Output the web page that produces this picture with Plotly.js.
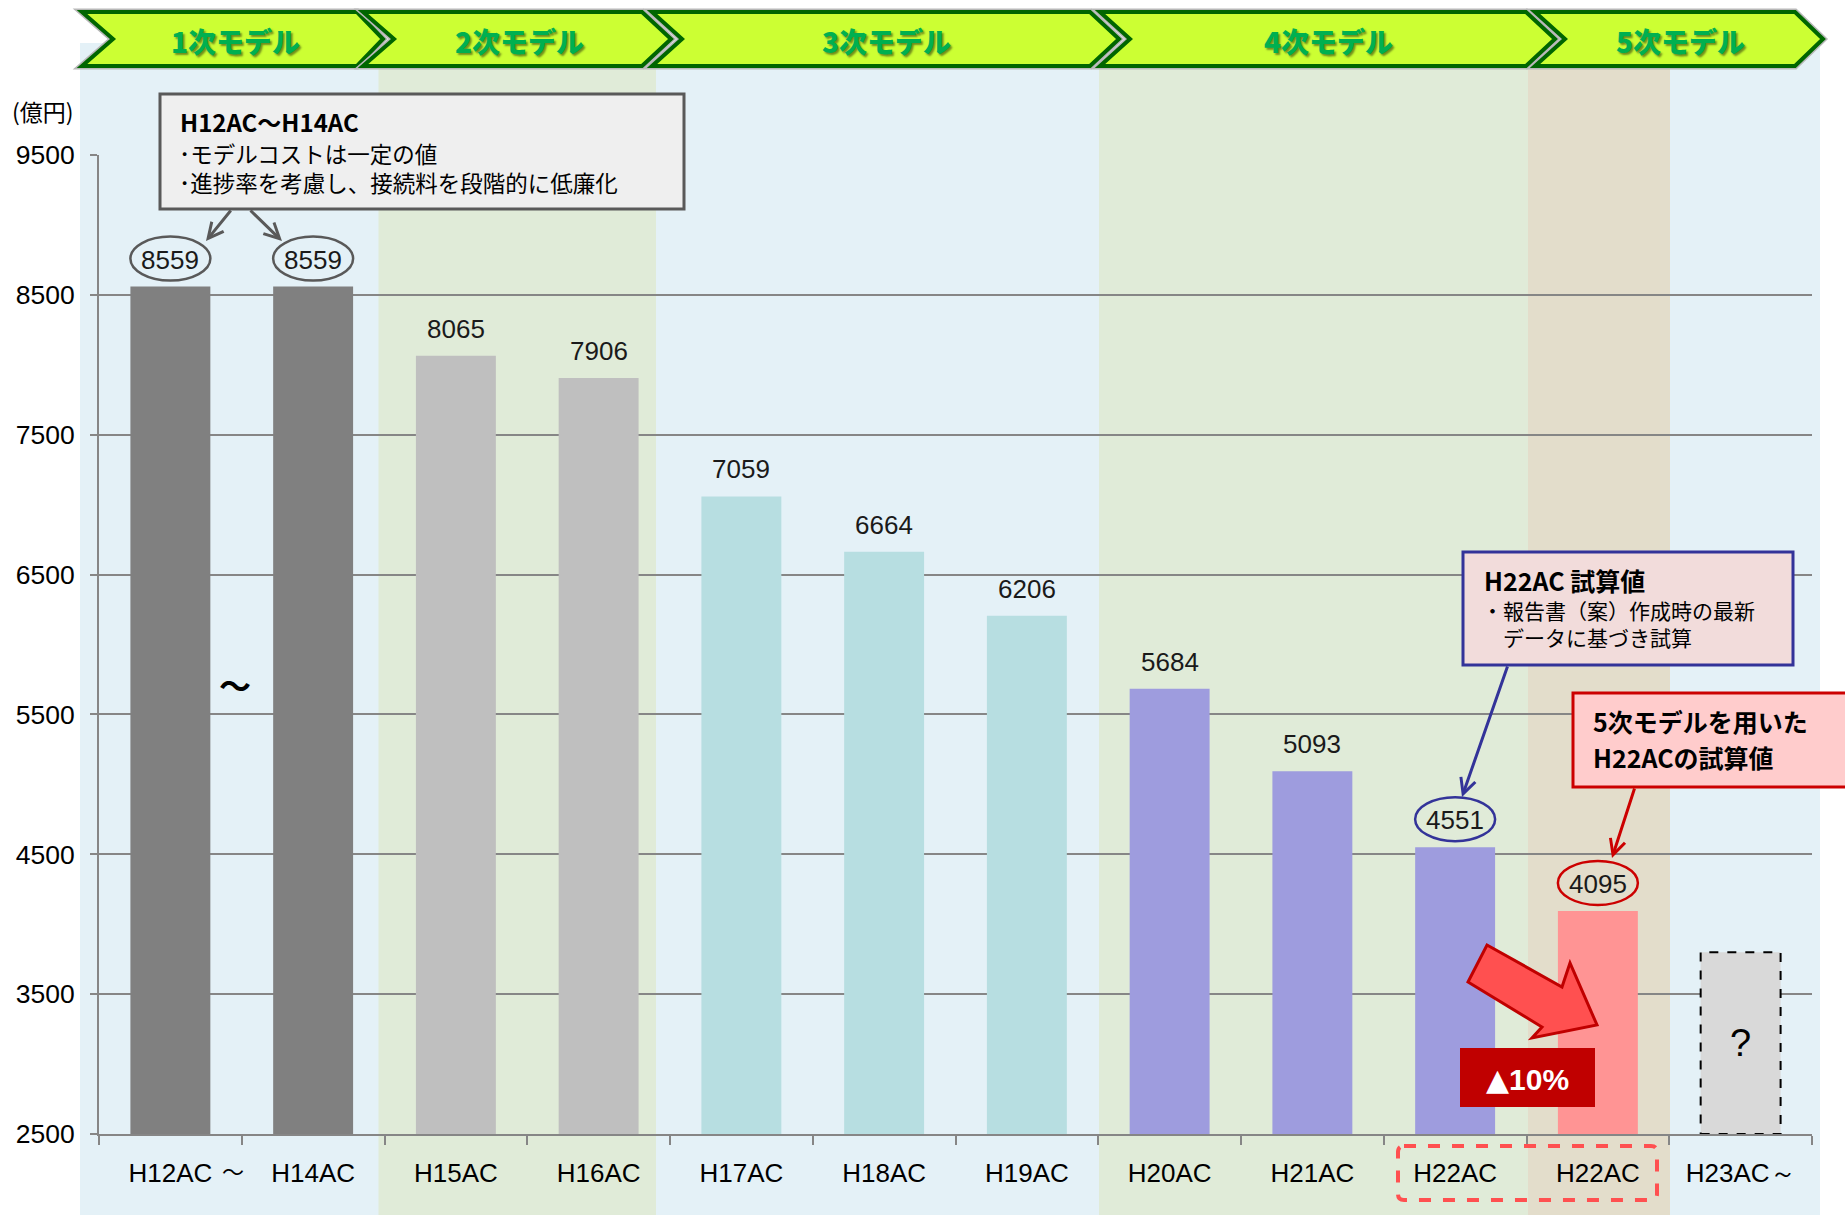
<!DOCTYPE html>
<html><head><meta charset="utf-8">
<script src="https://cdn.plot.ly/plotly-3.0.1.min.js"></script>
<style>html,body{margin:0;padding:0;background:#fff}</style>
</head><body>
<div id="chart" style="width:1845px;height:1215px"></div>
<script>
// ---- data ----
const categories = ["H12AC","H14AC","H15AC","H16AC","H17AC","H18AC","H19AC","H20AC","H21AC","H22AC","H22AC","H23AC～"];
const values = [8559,8559,8065,7906,7059,6664,6206,5684,5093,4551,4095,3800];
const valueLabels = ["8559","8559","8065","7906","7059","6664","6206","5684","5093","4551","4095","?"];
const barColors = ["#808080","#808080","#bfbfbf","#bfbfbf","#b7dee1","#b7dee1","#b7dee1","#9e9cde","#9e9cde","#9e9cde","#ff9494","#d9d9d9"];
const circleColors = ["#595959","#595959",null,null,null,null,null,null,null,"#333399","#cc0000",null];
const yTicks = [2500,3500,4500,5500,6500,7500,8500,9500];
const yRange = [2500,9500];
const modelNames = ["1次モデル","2次モデル","3次モデル","4次モデル","5次モデル"];
const unitLabel = "(億円)";
const note1Title = "H12AC～H14AC";
const note1Lines = ["･モデルコストは一定の値","･進捗率を考慮し、接続料を段階的に低廉化"];
const note2Title = "H22AC 試算値";
const note2Lines = ["・報告書（案）作成時の最新","　データに基づき試算"];
const note3Lines = ["5次モデルを用いた","H22ACの試算値"];
const dropLabel = "10%";

// ---- geometry helpers (pixel -> paper) ----
const L = 99, R = 1812, T = 155, B = 1134;
const px = x => (x - L) / (R - L);
const py = y => (B - y) / (B - T);
const NUM = 'Liberation Sans, Arial, sans-serif';
const JP = 'Noto Sans CJK JP, sans-serif';

const xIdx = categories.map((_, i) => i);

const shapes = [];
const annotations = [];

// background bands
function band(x0, x1, y0, y1, color) {
  shapes.push({type:'rect', xref:'paper', yref:'paper', x0:px(x0), x1:px(x1), y0:py(y1), y1:py(y0),
    fillcolor:color, line:{width:0}, layer:'below'});
}
band(80, 1820, 43, 1215, '#e4f1f7');
band(378.5, 656, 60, 1215, '#e0ebd8');
band(1099, 1528, 60, 1215, '#e0ebd8');
band(1528, 1670, 60, 1215, '#e3ddcb');

// chevrons
const chev = [[82,113,357,383,235],[363,394,642,671,519],[652,682,1090,1119,886],[1100,1130,1526,1555,1328],[1535,1565,1795,1823,1680]];
const cTop = 12, cBot = 66, cMid = 39;
chev.forEach((c, k) => {
  const [l, n, co, tip, tx] = c;
  const path = `M${px(l)},${py(cTop)} L${px(co)},${py(cTop)} L${px(tip)},${py(cMid)} L${px(co)},${py(cBot)} L${px(l)},${py(cBot)} L${px(n)},${py(cMid)} Z`;
  shapes.push({type:'path', xref:'paper', yref:'paper', path, fillcolor:'#ccff33', line:{color:'#b8b8b8', width:7}, layer:'above'});
  shapes.push({type:'path', xref:'paper', yref:'paper', path, fillcolor:'#ccff33', line:{color:'#006600', width:4}, layer:'above'});
  annotations.push({xref:'paper', yref:'paper', x:px(tx), y:py(41), text:modelNames[k], showarrow:false,
    xanchor:'center', yanchor:'middle',
    font:{family:JP, size:28, weight:900, color:'#00b050', shadow:'2px 2px 2px rgba(0,0,0,0.45)'}});
});

// value labels + circles
values.forEach((v, i) => {
  if (i < values.length - 1) {
    annotations.push({xref:'x', yref:'y', x:i, y:v, yshift:27, text:valueLabels[i], showarrow:false,
      xanchor:'center', yanchor:'middle', font:{family:NUM, size:26, color:'#1a1a1a'}});
  } else {
    annotations.push({xref:'x', yref:'y', x:i, y:(yRange[0] + v) / 2, text:valueLabels[i], showarrow:false,
      xanchor:'center', yanchor:'middle', font:{family:NUM, size:38, color:'#000'}});
    shapes.push({type:'rect', xref:'x', yref:'y', x0:i-0.28, x1:i+0.28, y0:yRange[0], y1:v,
      line:{color:'#000', width:2, dash:'dash'}, fillcolor:'rgba(0,0,0,0)', layer:'above'});
  }
  if (circleColors[i]) {
    shapes.push({type:'circle', xref:'x', yref:'y', xsizemode:'pixel', ysizemode:'pixel', xanchor:i, yanchor:v,
      x0:-40, x1:40, y0:6, y1:50, line:{color:circleColors[i], width:2.5}, fillcolor:'rgba(0,0,0,0)', layer:'above'});
  }
});

// callout 1
shapes.push({type:'rect', xref:'paper', yref:'paper', x0:px(160), x1:px(684), y0:py(209), y1:py(94),
  fillcolor:'#efefef', line:{color:'#595959', width:3}, layer:'above'});
annotations.push({xref:'paper', yref:'paper', x:px(178), y:py(122), text:'<b>'+note1Title+'</b>', showarrow:false,
  xanchor:'left', yanchor:'middle', font:{family:JP, size:24, color:'#000'}});
annotations.push({xref:'paper', yref:'paper', x:px(177), y:py(168), text:note1Lines.join('<br>'), showarrow:false,
  xanchor:'left', yanchor:'middle', align:'left', font:{family:JP, size:22.5, color:'#000'}});

// callout 2
shapes.push({type:'rect', xref:'paper', yref:'paper', x0:px(1463), x1:px(1793), y0:py(665), y1:py(552),
  fillcolor:'#f2dcdb', line:{color:'#333399', width:3}, layer:'above'});
annotations.push({xref:'paper', yref:'paper', x:px(1482), y:py(580), text:'<b>'+note2Title+'</b>', showarrow:false,
  xanchor:'left', yanchor:'middle', font:{family:JP, size:25, color:'#000'}});
annotations.push({xref:'paper', yref:'paper', x:px(1480), y:py(623), text:note2Lines.join('<br>'), showarrow:false,
  xanchor:'left', yanchor:'middle', align:'left', font:{family:JP, size:21, color:'#000'}});

// callout 3 (red)
shapes.push({type:'rect', xref:'paper', yref:'paper', x0:px(1573), x1:px(1855), y0:py(787), y1:py(693),
  fillcolor:'#ffcccc', line:{color:'#cc0000', width:3}, layer:'above'});
note3Lines.forEach((t, j) => annotations.push({xref:'paper', yref:'paper', x:px(1591), y:py(721 + 36*j), text:'<b>'+t+'</b>', showarrow:false,
  xanchor:'left', yanchor:'middle', align:'left', font:{family:JP, size:25, color:'#000'}}));

// arrows
function arrow(hx, hy, tx, ty, color) {
  annotations.push({xref:'paper', yref:'paper', x:px(hx), y:py(hy), ax:tx-hx, ay:ty-hy, text:'', showarrow:true,
    arrowhead:5, arrowsize:1, arrowwidth:3, arrowcolor:color, standoff:0, startstandoff:0});
}
arrow(206, 241, 232, 209, '#595959');
arrow(282, 241, 249, 209, '#595959');
arrow(1462, 797, 1508, 665, '#333399');
arrow(1612, 858, 1635, 787, '#cc0000');

// big red block arrow
const ba = [[1487,945],[1562,987],[1570,963],[1597,1025],[1532,1038],[1542,1027],[1468,982]];
shapes.push({type:'path', xref:'paper', yref:'paper',
  path: 'M' + ba.map(p => px(p[0]) + ',' + py(p[1])).join(' L') + ' Z',
  fillcolor:'#ff5050', line:{color:'#c00000', width:3}, layer:'above'});

// ▲10% box
shapes.push({type:'rect', xref:'paper', yref:'paper', x0:px(1460), x1:px(1595), y0:py(1107), y1:py(1048),
  fillcolor:'#c00000', line:{width:0}, layer:'above'});
annotations.push({xref:'paper', yref:'paper', x:px(1527), y:py(1079),
  text:'<span style="font-family:DejaVu Sans;font-size:30px">▲</span><b>'+dropLabel+'</b>', showarrow:false,
  xanchor:'center', yanchor:'middle', font:{family:NUM, size:30, color:'#fff'}});

// dashed rounded box around H22AC labels
(function(){
  const x0=1398, x1=1657, y0=1146, y1=1200, r=6;
  const p = `M${px(x0+r)},${py(y0)} L${px(x1-r)},${py(y0)} Q${px(x1)},${py(y0)} ${px(x1)},${py(y0+r)} L${px(x1)},${py(y1-r)} Q${px(x1)},${py(y1)} ${px(x1-r)},${py(y1)} L${px(x0+r)},${py(y1)} Q${px(x0)},${py(y1)} ${px(x0)},${py(y1-r)} L${px(x0)},${py(y0+r)} Q${px(x0)},${py(y0)} ${px(x0+r)},${py(y0)} Z`;
  shapes.push({type:'path', xref:'paper', yref:'paper', path:p, line:{color:'#ff5050', width:4, dash:'dash'}, fillcolor:'rgba(0,0,0,0)', layer:'above'});
})();

// misc texts
annotations.push({xref:'paper', yref:'paper', x:px(43), y:py(111), text:unitLabel, showarrow:false,
  xanchor:'center', yanchor:'middle', font:{family:JP, size:23, color:'#000'}});
annotations.push({xref:'paper', yref:'paper', x:px(235), y:py(684), text:'<b>～</b>', showarrow:false,
  xanchor:'center', yanchor:'middle', font:{family:JP, size:32, color:'#000'}});
annotations.push({xref:'paper', yref:'paper', x:px(233), y:py(1170), text:'～', showarrow:false,
  xanchor:'center', yanchor:'middle', font:{family:JP, size:22, color:'#000'}});

const trace = {
  type:'bar', x:xIdx, y:values, width:0.56,
  marker:{color:barColors, line:{width:0}},
  hoverinfo:'skip'
};

const layout = {
  width:1845, height:1215,
  margin:{l:L, r:1845-R, t:T, b:1215-B, pad:0},
  paper_bgcolor:'#ffffff', plot_bgcolor:'rgba(0,0,0,0)',
  showlegend:false,
  xaxis:{range:[-0.5, 11.5], tickmode:'array', tickvals:xIdx, ticktext:categories, ticks:'',
    showline:true, linecolor:'#868686', linewidth:2, showgrid:false, zeroline:false, fixedrange:true,
    tickfont:{family:NUM, size:26, color:'#000'}, ticklabelstandoff:15,
    minor:{tickmode:'linear', tick0:-0.5, dtick:1, ticks:'outside', ticklen:9, tickwidth:2, tickcolor:'#868686', showgrid:false}},
  yaxis:{range:yRange, tickmode:'array', tickvals:yTicks, ticks:'outside', ticklen:7, tickwidth:2, tickcolor:'#868686',
    showline:true, linecolor:'#868686', linewidth:2, showgrid:true, gridcolor:'#868686', gridwidth:2, zeroline:false,
    tickfont:{family:NUM, size:26.5, color:'#000'}, ticklabelstandoff:10, fixedrange:true},
  shapes, annotations
};

Plotly.newPlot('chart', [trace], layout, {displayModeBar:false, staticPlot:true});
</script>
</body></html>
